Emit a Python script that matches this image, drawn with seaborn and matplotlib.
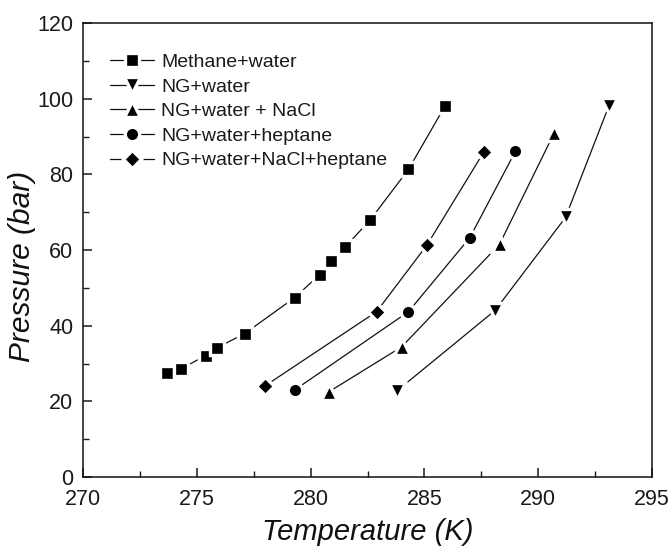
import matplotlib
matplotlib.use("Agg")
import matplotlib.pyplot as plt
from matplotlib.ticker import MultipleLocator
import seaborn as sns
import pandas as pd

# ---- data ----
series_names = ["Methane+water", "NG+water", "NG+water + NaCl",
                "NG+water+heptane", "NG+water+NaCl+heptane"]

methane_T = [273.7, 274.3, 275.4, 275.9, 277.1, 279.3, 280.4, 280.9, 281.5, 282.6, 284.3, 285.9]
methane_P = [27.5, 28.6, 32.1, 34.2, 37.9, 47.4, 53.5, 57.0, 60.7, 67.8, 81.3, 98.0]

ng_T = [283.8, 288.1, 291.2, 293.1]
ng_P = [22.8, 44.0, 68.6, 98.0]

nacl_T = [280.8, 284.0, 288.3, 290.7]
nacl_P = [22.5, 34.4, 61.5, 90.9]

hep_T = [279.3, 284.3, 287.0, 289.0]
hep_P = [23.0, 43.7, 63.3, 86.1]

naclhep_T = [278.0, 282.9, 285.1, 287.6]
naclhep_P = [24.1, 43.7, 61.2, 85.8]

x_ticks = [270, 275, 280, 285, 290, 295]
y_ticks = [0, 20, 40, 60, 80, 100, 120]

all_T = [methane_T, ng_T, nacl_T, hep_T, naclhep_T]
all_P = [methane_P, ng_P, nacl_P, hep_P, naclhep_P]

rows = []
for name, Ts, Ps in zip(series_names, all_T, all_P):
    for t, p in zip(Ts, Ps):
        rows.append({"series": name, "T": t, "P": p})
df = pd.DataFrame(rows)

# ---- styling ----
sns.set_theme(style="ticks")
plt.rcParams["font.family"] = ["Liberation Sans", "DejaVu Sans"]
plt.rcParams["axes.linewidth"] = 1.1

markers = {"Methane+water": "s", "NG+water": "v", "NG+water + NaCl": "^",
           "NG+water+heptane": "o", "NG+water+NaCl+heptane": "D"}
msizes = {"Methane+water": 9.4, "NG+water": 11.0, "NG+water + NaCl": 11.0,
          "NG+water+heptane": 10.4, "NG+water+NaCl+heptane": 9.0}
palette = {n: "black" for n in series_names}

fig = plt.figure(figsize=(6.72, 5.55), dpi=100)
ax = fig.add_axes([83 / 672, 78 / 555, 569 / 672, 454 / 555])

sns.lineplot(data=df, x="T", y="P", hue="series", style="series",
             hue_order=series_names, style_order=series_names,
             palette=palette, markers=markers, dashes=False,
             sort=False, estimator=None, legend=False, ax=ax,
             linewidth=0.9, markeredgecolor="white", markeredgewidth=2.4)

lines = ax.get_lines()
for line, name in zip(lines, series_names):
    line.set_markersize(msizes[name])
    line.set_color("#111111")
    line.set_markerfacecolor("black")
    line.set_markeredgecolor("white")

ax.set_xlim(270, 295)
ax.set_ylim(0, 120)
ax.set_xticks(x_ticks)
ax.set_yticks(y_ticks)
ax.xaxis.set_minor_locator(MultipleLocator(2.5))
ax.yaxis.set_minor_locator(MultipleLocator(10))
ax.tick_params(axis="both", which="major", direction="in", length=6.3,
               width=1.1, labelsize=15.5, colors="#1a1a1a")
ax.tick_params(axis="x", which="major", pad=8.5)
ax.tick_params(axis="y", which="major", pad=7)
ax.tick_params(axis="both", which="minor", direction="in", length=4,
               width=1.0, colors="#1a1a1a")
ax.tick_params(top=False, right=False, which="both")
for s in ax.spines.values():
    s.set_visible(True)
    s.set_color("#111111")

ax.set_xlabel("Temperature (K)", fontsize=21, fontstyle="italic", color="#111111")
ax.set_ylabel("Pressure (bar)", fontsize=21.5, fontstyle="italic", color="#111111")
ax.xaxis.set_label_coords(0.50, -0.09)
ax.yaxis.set_label_coords(-0.083, 0.465)

leg = ax.legend(handles=lines[:5], labels=series_names, loc="upper left",
                bbox_to_anchor=(0.047, 0.933), frameon=False, fontsize=14,
                handlelength=2.3, handletextpad=0.35, labelspacing=0.36,
                borderpad=0, borderaxespad=0)
for t in leg.get_texts():
    t.set_color("#1a1a1a")

fig.savefig("out.png", dpi=100)
